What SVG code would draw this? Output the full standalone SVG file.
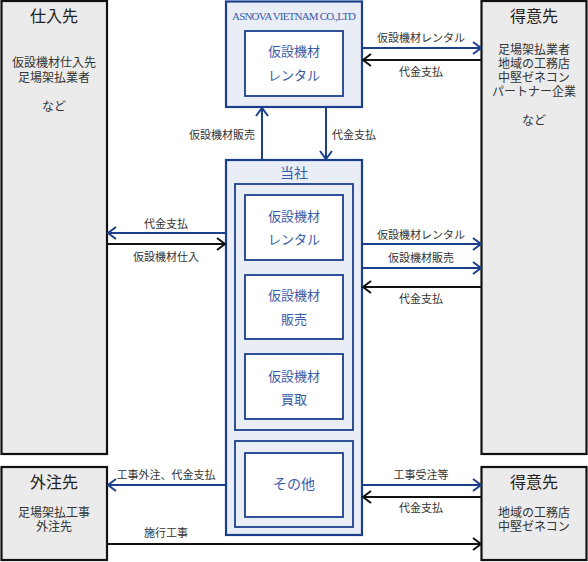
<svg xmlns="http://www.w3.org/2000/svg" width="588" height="562" viewBox="0 0 588 562">
<style>
.gray{fill:#ebebeb;stroke:#111;stroke-width:2.2}
.blu{fill:#e9edf6;stroke:#1b3f8b;stroke-width:2.2}
.grp{fill:#e9edf6;stroke:#1b3f8b;stroke-width:1.8}
.itm{fill:#fff;stroke:#1b3f8b;stroke-width:1.8}
text{font-family:"Liberation Serif","Noto Sans CJK JP",serif;text-anchor:middle}
.t1{font-size:16px;fill:#222}
.t2{font-size:12px;fill:#333}
.lb{font-size:11px;fill:#333}
.bt{font-size:13px;fill:#3a5ba8}
.bt2{font-size:14px;fill:#3a5ba8}
.cb{stroke:#1b3f8b;stroke-width:2;fill:none}
.ck{stroke:#111;stroke-width:2;fill:none}
</style>
<defs>
<marker id="ab" markerUnits="userSpaceOnUse" markerWidth="12" markerHeight="16" viewBox="0 0 12 16" refX="10" refY="8" orient="auto"><path d="M2,2 L10,8 L2,14" fill="none" stroke="#1b3f8b" stroke-width="2"/></marker>
<marker id="ak" markerUnits="userSpaceOnUse" markerWidth="12" markerHeight="16" viewBox="0 0 12 16" refX="10" refY="8" orient="auto"><path d="M2,2 L10,8 L2,14" fill="none" stroke="#111" stroke-width="2"/></marker>
</defs>

<g id="shiiresaki">
<rect class="gray" x="1.5" y="1" width="105.5" height="453"/>
<text class="t1" x="54" y="22">仕入先</text>
<text class="t2" x="54" y="67">仮設機材仕入先</text>
<text class="t2" x="54" y="82">足場架払業者</text>
<text class="t2" x="54" y="111">など</text>
</g>

<g id="tokuisaki1">
<rect class="gray" x="481.5" y="1" width="105" height="453"/>
<text class="t1" x="534" y="22">得意先</text>
<text class="t2" x="534" y="54">足場架払業者</text>
<text class="t2" x="534" y="68">地域の工務店</text>
<text class="t2" x="534" y="82">中堅ゼネコン</text>
<text class="t2" x="534" y="96">パートナー企業</text>
<text class="t2" x="534" y="125">など</text>
</g>

<g id="gaichusaki">
<rect class="gray" x="1.5" y="467" width="105.5" height="93"/>
<text class="t1" x="54" y="488">外注先</text>
<text class="t2" x="54" y="517">足場架払工事</text>
<text class="t2" x="54" y="531">外注先</text>
</g>

<g id="tokuisaki2">
<rect class="gray" x="481.5" y="467" width="105" height="93"/>
<text class="t1" x="534" y="488">得意先</text>
<text class="t2" x="534" y="517">地域の工務店</text>
<text class="t2" x="534" y="531">中堅ゼネコン</text>
</g>

<g id="asnova">
<rect class="blu" x="226" y="1.5" width="136" height="105.5"/>
<text x="294" y="20" font-size="11" fill="#3a5ba8" textLength="124" lengthAdjust="spacing">ASNOVA VIETNAM CO.,LTD</text>
<rect class="itm" x="245" y="31" width="98" height="65"/>
<text class="bt" x="294" y="56">仮設機材</text>
<text class="bt" x="294" y="80">レンタル</text>
</g>

<g id="tosha">
<rect class="blu" x="226" y="160" width="136" height="375"/>
<text class="bt2" x="294" y="178">当社</text>
<rect class="grp" x="235" y="184" width="118" height="246"/>
<rect class="itm" x="245" y="195" width="98" height="65"/>
<text class="bt" x="294" y="221">仮設機材</text>
<text class="bt" x="294" y="244">レンタル</text>
<rect class="itm" x="245" y="275" width="98" height="64"/>
<text class="bt" x="294" y="300">仮設機材</text>
<text class="bt" x="294" y="324">販売</text>
<rect class="itm" x="245" y="354" width="98" height="65"/>
<text class="bt" x="294" y="381">仮設機材</text>
<text class="bt" x="294" y="404">買取</text>
<rect class="grp" x="235" y="441" width="118" height="86"/>
<rect class="itm" x="245" y="453" width="98" height="64"/>
<text class="bt2" x="294" y="489">その他</text>
</g>

<g id="connectors">
<line class="cb" x1="362" y1="48" x2="481" y2="48" marker-end="url(#ab)"/>
<text class="lb" x="421" y="42">仮設機材レンタル</text>
<line class="ck" x1="481" y1="60" x2="363" y2="60" marker-end="url(#ak)"/>
<text class="lb" x="421" y="76">代金支払</text>

<line class="cb" x1="262" y1="160" x2="262" y2="108" marker-end="url(#ab)"/>
<text class="lb" x="255" y="139" style="text-anchor:end">仮設機材販売</text>
<line class="cb" x1="326" y1="107" x2="326" y2="159" marker-end="url(#ab)"/>
<text class="lb" x="332" y="139" style="text-anchor:start">代金支払</text>

<line class="cb" x1="226" y1="233" x2="108" y2="233" marker-end="url(#ab)"/>
<text class="lb" x="166" y="228">代金支払</text>
<line class="ck" x1="107" y1="244" x2="225" y2="244" marker-end="url(#ak)"/>
<text class="lb" x="166" y="261">仮設機材仕入</text>

<line class="cb" x1="362" y1="244" x2="481" y2="244" marker-end="url(#ab)"/>
<text class="lb" x="421" y="239">仮設機材レンタル</text>
<line class="cb" x1="362" y1="268" x2="481" y2="268" marker-end="url(#ab)"/>
<text class="lb" x="421" y="262">仮設機材販売</text>
<line class="ck" x1="481" y1="287" x2="363" y2="287" marker-end="url(#ak)"/>
<text class="lb" x="421" y="303">代金支払</text>

<line class="cb" x1="226" y1="485" x2="108" y2="485" marker-end="url(#ab)"/>
<text class="lb" x="166" y="479">工事外注、代金支払</text>
<line class="cb" x1="362" y1="485" x2="481" y2="485" marker-end="url(#ab)"/>
<text class="lb" x="421" y="479">工事受注等</text>
<line class="ck" x1="481" y1="497" x2="363" y2="497" marker-end="url(#ak)"/>
<text class="lb" x="421" y="512">代金支払</text>
<line class="ck" x1="107" y1="544" x2="481" y2="544" marker-end="url(#ak)"/>
<text class="lb" x="166" y="537">施行工事</text>
</g>
</svg>
